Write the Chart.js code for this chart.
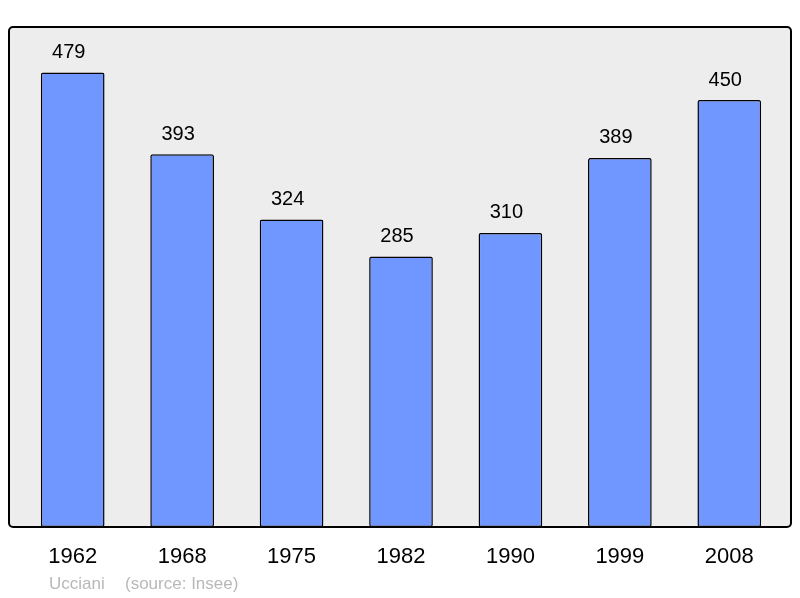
<!DOCTYPE html>
<html>
<head>
<meta charset="utf-8">
<script src="https://cdn.jsdelivr.net/npm/chart.js@4"></script>
<style>
  html, body { margin: 0; padding: 0; background: #ffffff; }
  #grafico { display: block; }
</style>
</head>
<body>
<canvas id="grafico" width="800" height="598"></canvas>
<script>
// ---------------- datos ----------------
const annees = ["1962", "1968", "1975", "1982", "1990", "1999", "2008"];
const population = [479, 393, 324, 285, 310, 389, 450];
const commune = "Ucciani";
const source = "(source: Insee)";

// fondo gris y marco redondeado del area del grafico
const marco = {
    id: "marco",
    beforeDatasetsDraw(chart) {
        const { ctx, chartArea: a } = chart;
        ctx.save();
        ctx.beginPath();
        ctx.roundRect(a.left - 9, a.top, a.width + 16, a.height, 4);
        ctx.fillStyle = "#ededed";
        ctx.fill();
        ctx.restore();
    },
    afterDatasetsDraw(chart) {
        const { ctx, chartArea: a } = chart;
        ctx.save();
        ctx.beginPath();
        ctx.roundRect(a.left - 9, a.top, a.width + 16, a.height, 4);
        ctx.lineWidth = 2;
        ctx.strokeStyle = "#000000";
        ctx.stroke();

        // valores encima de las barras
        ctx.font = "20px 'Liberation Sans', Arial, sans-serif";
        ctx.fillStyle = "#000000";
        ctx.textAlign = "center";
        ctx.textBaseline = "middle";
        chart.getDatasetMeta(0).data.forEach((barra, i) => {
            ctx.fillText(population[i], barra.x - 4, barra.y - 20);
        });

        // pie: nombre y fuente
        ctx.font = "17px 'Liberation Sans', Arial, sans-serif";
        ctx.fillStyle = "#b8b8b8";
        ctx.textAlign = "left";
        ctx.fillText(commune, 49, 584);
        ctx.fillText(source, 125, 584);
        ctx.restore();
    },
};

let grafica = new Chart(document.getElementById("grafico").getContext("2d"), {
    type: "bar",
    data: {
        labels: annees,
        datasets: [
            {
                data: population,
                backgroundColor: "#7096ff",
                borderColor: "#000000",
                borderWidth: 1.5,
                borderRadius: 2,
                borderSkipped: false,
                categoryPercentage: 1,
                barPercentage: 0.582,
            },
        ],
    },
    options: {
        responsive: false,
        animation: false,
        layout: { padding: { left: 18, right: 16, top: 27, bottom: 0 } },
        plugins: { legend: { display: false }, tooltip: { enabled: false } },
        scales: {
            x: {
                grid: { display: false, drawTicks: false },
                border: { display: false },
                ticks: {
                    color: "#000000",
                    padding: 17,
                    font: { size: 22, family: "'Liberation Sans', Arial, sans-serif" },
                },
                afterFit(scale) { scale.height = 71; },
            },
            y: {
                display: false,
                min: 0,
                max: 527,
            },
        },
    },
    plugins: [marco],
});
</script>
</body>
</html>
